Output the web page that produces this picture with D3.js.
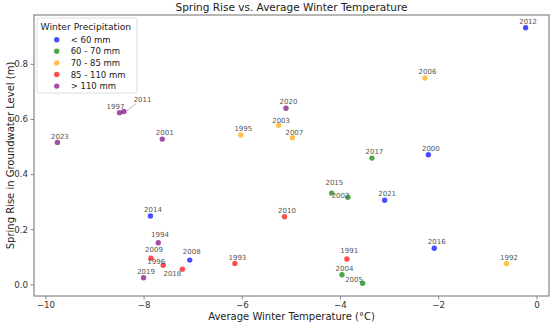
<!DOCTYPE html>
<html>
<head>
<meta charset="utf-8">
<script src="https://cdn.jsdelivr.net/npm/d3@7"></script>
<style>
  html, body { margin: 0; padding: 0; background: #fff; }
  svg text { font-family: "DejaVu Sans", sans-serif; }
</style>
</head>
<body>
<svg id="chart" width="550" height="324"></svg>
<script>
// ---- data ----
const categories = ['< 60 mm', '60 - 70 mm', '70 - 85 mm', '85 - 110 mm', '> 110 mm'];
const categoryColors = ['#0000ff', '#008000', '#ffa500', '#ff0000', '#800080'];

const years = [1991, 1992, 1993, 1994, 1995, 1996, 1997, 2000, 2001, 2002,
               2003, 2004, 2005, 2006, 2007, 2008, 2009, 2010, 2011, 2012,
               2014, 2015, 2016, 2017, 2018, 2019, 2020, 2021, 2023];
const winterTemp = [-3.86, -0.61, -6.14, -7.70, -6.02, -7.60, -8.49, -2.20, -7.62, -3.84,
                    -5.25, -3.96, -3.54, -2.27, -4.97, -7.06, -7.85, -5.13, -8.40, -0.22,
                    -7.86, -4.17, -2.08, -3.35, -7.21, -8.00, -5.10, -3.09, -9.755];
const springRise = [0.092, 0.075, 0.076, 0.151, 0.542, 0.069, 0.623, 0.470, 0.527, 0.316,
                    0.577, 0.035, 0.004, 0.749, 0.532, 0.088, 0.095, 0.245, 0.627, 0.931,
                    0.248, 0.331, 0.131, 0.458, 0.055, 0.024, 0.639, 0.305, 0.515];
// index into categories
const precipClass = [3, 2, 3, 4, 2, 3, 4, 0, 4, 1,
                     2, 1, 1, 2, 2, 0, 3, 3, 4, 0,
                     0, 1, 0, 1, 3, 4, 4, 0, 4];

const xTicks = [-10, -8, -6, -4, -2, 0];
const yTicks = [0.0, 0.2, 0.4, 0.6, 0.8];

// label nudges (px) where the labels were pushed apart in the original
const labelNudge = {
    1997: [-4, -3.3], 2011: [18.6, -10], 2009: [3, -6], 1996: [-7, -1.3],
    2018: [-10, 6.7], 2008: [2, -6.4], 1994: [1.7, -6], 2002: [-7.3, 1],
    2015: [2.7, -8], 2005: [-8.5, -1.6], 1991: [2.4, -5.7], 2003: [2.5, -2.4],
    2007: [2, -3]
};
const defaultNudge = [2.5, -3.8];

// ---- layout ----
const margin = { left: 34, right: 1, top: 15, bottom: 28 };
const width = 550, height = 324;
const svg = d3.select('#chart');

const points = years.map((y, i) => ({
    year: y, temp: winterTemp[i], rise: springRise[i], cls: precipClass[i]
}));

// matplotlib-like 5% padding around the data
function padded(ext) {
    const pad = (ext[1] - ext[0]) * 0.05;
    return [ext[0] - pad, ext[1] + pad];
}

const x = d3.scaleLinear()
    .domain(padded(d3.extent(winterTemp)))
    .range([margin.left, width - margin.right]);
const y = d3.scaleLinear()
    .domain(padded(d3.extent(springRise)))
    .range([height - margin.bottom, margin.top]);

const axisColor = '#6e6e6e';

// x axis
const xAxis = svg.append('g')
    .attr('transform', `translate(0,${height - margin.bottom})`)
    .call(d3.axisBottom(x).tickValues(xTicks).tickSize(3.5).tickPadding(2.5)
        .tickFormat(d => d3.format('d')(d).replace('-', '\u2212')));
// y axis
const yAxis = svg.append('g')
    .attr('transform', `translate(${margin.left},0)`)
    .call(d3.axisLeft(y).tickValues(yTicks).tickSize(3.5).tickPadding(2.5)
        .tickFormat(d3.format('.1f')));

[xAxis, yAxis].forEach(g => {
    g.select('.domain').remove();
    g.selectAll('line').attr('stroke', axisColor).attr('stroke-width', 0.8);
    g.selectAll('text').attr('fill', '#333').style('font-size', '8.7px');
});

// frame
svg.append('rect')
    .attr('x', margin.left).attr('y', margin.top)
    .attr('width', width - margin.left - margin.right)
    .attr('height', height - margin.top - margin.bottom)
    .attr('fill', 'none').attr('stroke', axisColor).attr('stroke-width', 1);

// title and axis labels
svg.append('text')
    .attr('x', (margin.left + width - margin.right) / 2).attr('y', 11)
    .attr('text-anchor', 'middle').attr('fill', '#222')
    .style('font-size', '10.5px')
    .text('Spring Rise vs. Average Winter Temperature');

svg.append('text')
    .attr('x', (margin.left + width - margin.right) / 2).attr('y', 320)
    .attr('text-anchor', 'middle').attr('fill', '#222')
    .style('font-size', '10px')
    .text('Average Winter Temperature (\u00b0C)');

svg.append('text')
    .attr('transform', `translate(10,${(margin.top + height - margin.bottom) / 2}) rotate(-90)`)
    .attr('text-anchor', 'middle').attr('dominant-baseline', 'central').attr('fill', '#222')
    .style('font-size', '10px')
    .text('Spring Rise in Groundwater Level (m)');

// leader line for the one label that was pushed far away
const p2011 = points.find(p => p.year === 2011);
svg.append('line')
    .attr('x1', x(p2011.temp) + 3).attr('y1', y(p2011.rise) - 1)
    .attr('x2', x(p2011.temp) + 12).attr('y2', y(p2011.rise) - 8)
    .attr('stroke', '#aaa').attr('stroke-width', 0.8);

// points
svg.append('g')
    .selectAll('circle')
    .data(points)
    .enter()
    .append('circle')
    .attr('cx', d => x(d.temp))
    .attr('cy', d => y(d.rise))
    .attr('r', 2.7)
    .attr('fill', d => categoryColors[d.cls])
    .attr('fill-opacity', 0.7);

// year labels
svg.append('g')
    .selectAll('text')
    .data(points)
    .enter()
    .append('text')
    .attr('x', d => x(d.temp) + (labelNudge[d.year] || defaultNudge)[0])
    .attr('y', d => y(d.rise) + (labelNudge[d.year] || defaultNudge)[1])
    .attr('text-anchor', 'middle')
    .attr('fill', '#555')
    .style('font-size', '7px')
    .text(d => d.year);

// legend
const legend = svg.append('g').attr('transform', 'translate(37,18)');
legend.append('rect')
    .attr('width', 100).attr('height', 75).attr('rx', 2)
    .attr('fill', '#fff').attr('fill-opacity', 0.8)
    .attr('stroke', '#d6d6d6').attr('stroke-width', 0.8);
legend.append('text')
    .attr('x', 3.5).attr('y', 11.5)
    .attr('fill', '#222').style('font-size', '9.2px')
    .text('Winter Precipitation');

const items = legend.selectAll('g.item')
    .data(categories)
    .enter()
    .append('g')
    .attr('class', 'item')
    .attr('transform', (d, i) => `translate(0,${21.7 + i * 11.6})`);
items.append('circle')
    .attr('cx', 19.7).attr('cy', 0).attr('r', 2.7)
    .attr('fill', (d, i) => categoryColors[i]).attr('fill-opacity', 0.7);
items.append('text')
    .attr('x', 33.7).attr('y', 0)
    .attr('dominant-baseline', 'central')
    .attr('fill', '#222').style('font-size', '8.5px')
    .text(d => d);
</script>
</body>
</html>
